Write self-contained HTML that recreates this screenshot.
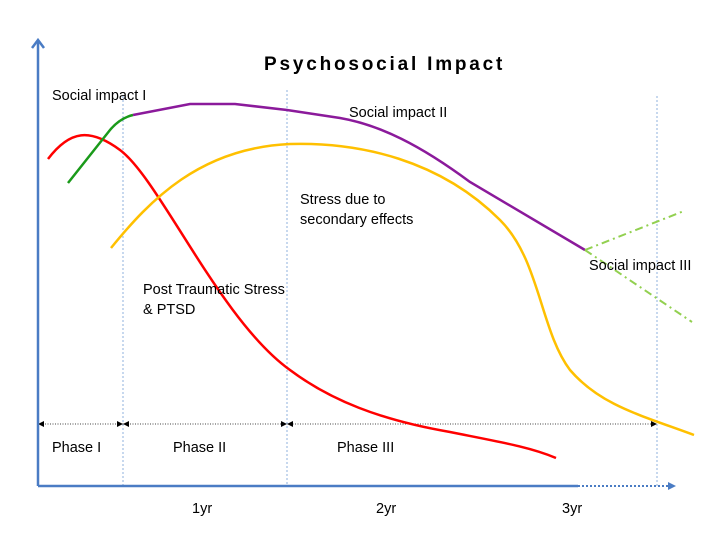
<!DOCTYPE html>
<html><head><style>body{margin:0;background:#fff}svg{display:block}text{font-family:"Liberation Sans",sans-serif}</style></head><body>
<svg width="723" height="543" viewBox="0 0 723 543">
<g stroke="#8fb0dc" stroke-width="1" stroke-dasharray="2,2">
<line x1="123" y1="96" x2="123" y2="486"/><line x1="287" y1="90" x2="287" y2="486"/><line x1="657" y1="96" x2="657" y2="486"/>
</g>
<g stroke="#444" stroke-width="1" stroke-dasharray="1,1.5">
<line x1="40" y1="424" x2="655" y2="424"/>
</g>
<g fill="#000">
<polygon points="38,424 44,421 44,427"/><polygon points="123,424 117,421 117,427"/><polygon points="123,424 129,421 129,427"/>
<polygon points="287,424 281,421 281,427"/><polygon points="287,424 293,421 293,427"/><polygon points="657,424 651,421 651,427"/>
</g>
<line x1="38" y1="486" x2="38" y2="42" stroke="#4a7cc4" stroke-width="2.5"/>
<polyline points="32,48 38,40 44,48" fill="none" stroke="#4a7cc4" stroke-width="2.5"/>
<line x1="38" y1="486" x2="578" y2="486" stroke="#4a7cc4" stroke-width="2.5"/>
<line x1="578" y1="486" x2="670" y2="486" stroke="#4a7cc4" stroke-width="2" stroke-dasharray="2,2"/>
<polygon points="676,486 668,482 668,490" fill="#4a7cc4"/>
<path d="M48,159 C70,130 90,128 120,150 C160,180 220,320 290,370 C330,400 380,420 450,432 C500,442 530,447 556,458" fill="none" stroke="#f00" stroke-width="2.5"/>
<path d="M111,248 C150,200 200,148 290,144 C360,142 440,160 500,220 C540,260 540,330 570,370 C600,405 640,415 694,435" fill="none" stroke="#ffc000" stroke-width="2.5"/>
<path d="M68,183 L110,130 Q120,118 133,115" fill="none" stroke="#1a9a1a" stroke-width="2.5"/>
<path d="M133,115 L190,104 L235,104 L287,110 L340,118 C380,125 420,145 470,182 L585,250" fill="none" stroke="#8b1a9b" stroke-width="2.5"/>
<g stroke="#92d050" stroke-width="2" stroke-dasharray="8,4,2,4" fill="none">
<path d="M585,250 L684,211"/><path d="M585,250 L692,322"/>
</g>
<text x="264" y="70" font-size="19" font-weight="bold" letter-spacing="2.8">Psychosocial Impact</text>
<g font-size="14.5">
<text x="52" y="100">Social impact I</text>
<text x="349" y="117">Social impact II</text>
<text x="300" y="204">Stress due to</text>
<text x="300" y="224">secondary effects</text>
<text x="143" y="294">Post Traumatic Stress</text>
<text x="143" y="314">&amp; PTSD</text>
<text x="589" y="270">Social impact III</text>
<text x="52" y="452">Phase I</text>
<text x="173" y="452">Phase II</text>
<text x="337" y="452">Phase III</text>
<text x="192" y="513">1yr</text>
<text x="376" y="513">2yr</text>
<text x="562" y="513">3yr</text>
</g>
</svg>
</body></html>
